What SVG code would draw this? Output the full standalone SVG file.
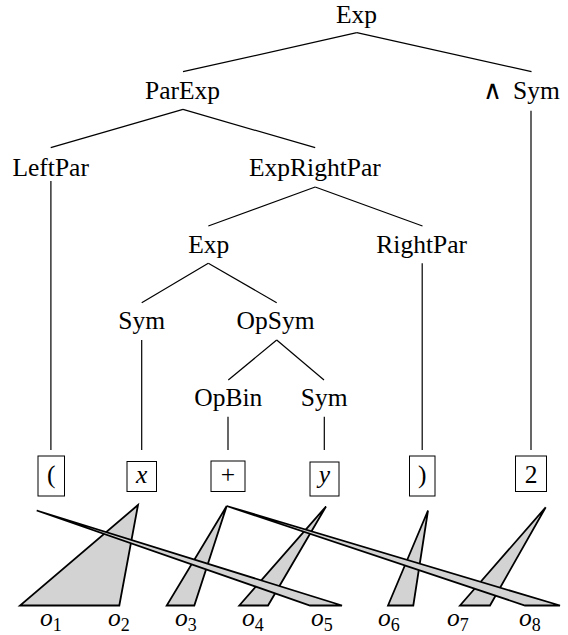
<svg xmlns="http://www.w3.org/2000/svg" width="568" height="635" viewBox="0 0 568 635">
  <style>
    text { font-family: "Liberation Serif", "Times New Roman", serif; font-size: 25.5px; fill: #000; }
    .lbl { text-anchor: middle; }
    .it { font-style: italic; }
    .sub { font-size: 18px; font-style: normal; }
    .wedge { font-family: "DejaVu Serif", serif; font-size: 26px; }
    .edge { stroke: #000; stroke-width: 1.2; fill: none; }
    .box { stroke: #000; stroke-width: 1; fill: #fff; }
    .span { stroke: #000; stroke-width: 1.8; fill: #d3d3d3; stroke-linejoin: miter; }
  </style>

  <!-- parse tree edges -->
  <g id="connectors">
    <line class="edge" x1="356.8" y1="32.7" x2="183" y2="71.7"/>
    <line class="edge" x1="356.8" y1="32.7" x2="531.5" y2="71.7"/>
    <line class="edge" x1="183" y1="109.3" x2="50.7" y2="147.7"/>
    <line class="edge" x1="183" y1="109.3" x2="315.2" y2="147.7"/>
    <line class="edge" x1="315.2" y1="187" x2="208.3" y2="226"/>
    <line class="edge" x1="315.2" y1="187" x2="422.5" y2="226"/>
    <line class="edge" x1="208.3" y1="263.3" x2="141.7" y2="302.7"/>
    <line class="edge" x1="208.3" y1="263.3" x2="276.7" y2="302.7"/>
    <line class="edge" x1="276.7" y1="340" x2="228.3" y2="380"/>
    <line class="edge" x1="276.7" y1="340" x2="324" y2="380"/>
    <!-- leaves down to the tokens -->
    <line class="edge" x1="50.9" y1="181" x2="50.9" y2="450"/>
    <line class="edge" x1="141.7" y1="340" x2="141.7" y2="450"/>
    <line class="edge" x1="228" y1="416.7" x2="228" y2="450"/>
    <line class="edge" x1="324.3" y1="416.7" x2="324.3" y2="450"/>
    <line class="edge" x1="422.2" y1="263.3" x2="422.2" y2="450"/>
    <line class="edge" x1="531" y1="110.7" x2="531" y2="450"/>
  </g>

  <!-- tree nodes -->
  <g id="n-exp"><text class="lbl" x="356.5" y="22.7">Exp</text></g>
  <g id="n-parexp"><text class="lbl" x="182.6" y="99.3">ParExp</text></g>
  <g id="n-powsym"><text y="99.3"><tspan class="wedge" x="483">∧</tspan><tspan x="513">Sym</tspan></text></g>
  <g id="n-leftpar"><text class="lbl" x="50.7" y="176">LeftPar</text></g>
  <g id="n-exprightpar"><text class="lbl" x="314.9" y="176">ExpRightPar</text></g>
  <g id="n-exp2"><text class="lbl" x="208.7" y="252.7">Exp</text></g>
  <g id="n-rightpar"><text class="lbl" x="421.7" y="252.7">RightPar</text></g>
  <g id="n-sym1"><text class="lbl" x="141.7" y="329.3">Sym</text></g>
  <g id="n-opsym"><text class="lbl" x="275.5" y="329.3">OpSym</text></g>
  <g id="n-opbin"><text class="lbl" x="228.3" y="406">OpBin</text></g>
  <g id="n-sym2"><text class="lbl" x="324.2" y="406">Sym</text></g>

  <!-- token boxes -->
  <g id="t-lpar"><rect class="box" x="38" y="456" width="26.5" height="40"/><text class="lbl" x="51.2" y="482.5">(</text></g>
  <g id="t-x"><rect class="box" x="127" y="461.5" width="29.5" height="30"/><text class="lbl it" x="141.7" y="482.5">x</text></g>
  <g id="t-plus"><rect class="box" x="211" y="461" width="34" height="30.5"/><text class="lbl" x="228" y="482.5">+</text></g>
  <g id="t-y"><rect class="box" x="310" y="462" width="29" height="34"/><text class="lbl it" x="324.5" y="482.5">y</text></g>
  <g id="t-rpar"><rect class="box" x="409.5" y="456" width="25.5" height="40"/><text class="lbl" x="422.2" y="482.5">)</text></g>
  <g id="t-two"><rect class="box" x="515.5" y="456" width="31" height="35.5"/><text class="lbl" x="531" y="482.5">2</text></g>

  <!-- alignment spans from tokens to observations -->
  <g id="spans">
    <polygon class="span" points="138,505 20,605.5 119.3,605.5"/>
    <polygon class="span" points="226.7,506 166.7,605.5 194.3,605.5"/>
    <polygon class="span" points="326,506.5 239.3,605.5 268,605.5"/>
    <polygon class="span" points="428,510.5 388,605.5 413.3,605.5"/>
    <polygon class="span" points="545.7,507.3 460,605.5 490,605.5"/>
    <polygon class="span" points="36.7,510.5 310,605.5 342,605.5"/>
    <polygon class="span" points="226.7,506 525,605.5 560,605.5"/>
  </g>

  <!-- observations -->
  <g id="observations">
    <text class="it" x="40" y="626">o<tspan class="sub" dy="5">1</tspan></text>
    <text class="it" x="108" y="626">o<tspan class="sub" dy="5">2</tspan></text>
    <text class="it" x="175" y="626">o<tspan class="sub" dy="5">3</tspan></text>
    <text class="it" x="242" y="626">o<tspan class="sub" dy="5">4</tspan></text>
    <text class="it" x="311" y="626">o<tspan class="sub" dy="5">5</tspan></text>
    <text class="it" x="378" y="626">o<tspan class="sub" dy="5">6</tspan></text>
    <text class="it" x="447" y="626">o<tspan class="sub" dy="5">7</tspan></text>
    <text class="it" x="519" y="626">o<tspan class="sub" dy="5">8</tspan></text>
  </g>
</svg>
